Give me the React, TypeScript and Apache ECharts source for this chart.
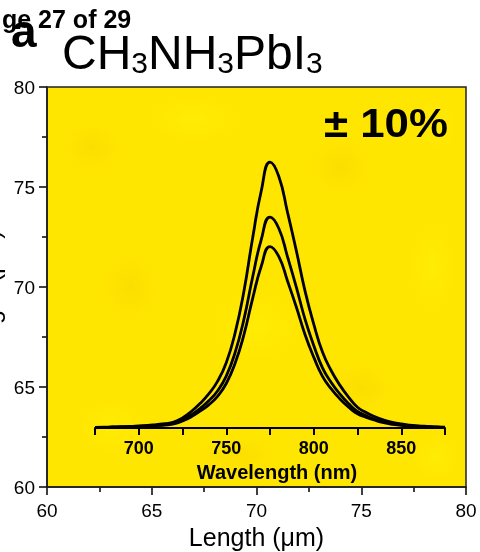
import React, { useEffect, useRef } from "react";
import * as echarts from "echarts";

// ---- data ----
const wavelengths = [675, 680, 685, 690, 695, 700, 705, 710, 715, 720, 725, 730, 735, 740, 745, 750, 755, 760, 765, 770, 775, 780, 785, 790, 795, 800, 805, 810, 815, 820, 825, 830, 835, 840, 845, 850, 855, 860, 865, 870, 875];
const plHigh = [0.002, 0.003, 0.004, 0.005, 0.006, 0.008, 0.010, 0.013, 0.016, 0.022, 0.038, 0.062, 0.092, 0.128, 0.175, 0.245, 0.355, 0.51, 0.71, 0.89, 0.998, 0.945, 0.81, 0.667, 0.515, 0.39, 0.285, 0.215, 0.16, 0.115, 0.078, 0.058, 0.042, 0.030, 0.021, 0.015, 0.011, 0.008, 0.006, 0.004, 0.003];
const plMid = [0.002, 0.002, 0.003, 0.004, 0.005, 0.006, 0.008, 0.010, 0.013, 0.017, 0.030, 0.049, 0.073, 0.102, 0.139, 0.195, 0.282, 0.405, 0.564, 0.707, 0.792, 0.750, 0.643, 0.530, 0.409, 0.310, 0.226, 0.171, 0.127, 0.091, 0.062, 0.046, 0.033, 0.024, 0.017, 0.012, 0.009, 0.006, 0.005, 0.003, 0.002];
const plLow = [0.001, 0.002, 0.003, 0.003, 0.004, 0.005, 0.007, 0.009, 0.011, 0.015, 0.026, 0.042, 0.063, 0.087, 0.119, 0.167, 0.242, 0.348, 0.484, 0.607, 0.681, 0.644, 0.552, 0.455, 0.351, 0.266, 0.194, 0.147, 0.109, 0.078, 0.053, 0.040, 0.029, 0.020, 0.014, 0.010, 0.008, 0.005, 0.004, 0.003, 0.002];
const lengthRange = [60, 80];
const insetLabels = [700, 750, 800, 850];

const FONT = "'Liberation Sans', Arial, Helvetica, sans-serif";

// layout
const W = 480, H = 552;
const G = { left: 47, right: 14, top: 87, bottom: 65 };
const IN = { left: 95, right: 35, top: 135, bottom: 124 };

export default function App() {
  const ref = useRef<HTMLDivElement>(null);
  useEffect(() => {
    if (!ref.current) return;
    const chart = echarts.init(ref.current, null, { renderer: "svg" });
    const pw = W - G.left - G.right;
    const ph = H - G.top - G.bottom;
    const blob = (fx: number, fy: number, rx: number, ry: number, color: string) => {
      const cx = Math.min(Math.max(G.left + fx * pw, G.left + rx), G.left + pw - rx);
      const cy = Math.min(Math.max(G.top + fy * ph, G.top + ry), G.top + ph - ry);
      return {
        type: "ellipse",
        z: -9,
        silent: true,
        shape: { cx, cy, rx, ry },
        style: {
          fill: new echarts.graphic.RadialGradient(0.5, 0.5, 0.5, [
            { offset: 0, color },
            { offset: 1, color: "rgba(255,230,0,0)" },
          ]),
        },
      };
    };
    const dark = "rgba(246,212,0,0.45)";
    const light = "rgba(255,242,10,0.55)";
    const mkLine = (data: number[]) => ({
      type: "line",
      xAxisIndex: 1,
      yAxisIndex: 1,
      data: wavelengths.map((w, i) => [w, data[i]]),
      smooth: 0.5,
      showSymbol: false,
      lineStyle: { color: "#000", width: 2.8 },
      z: 6,
    });
    chart.setOption({
      animation: false,
      grid: [
        { left: G.left, right: G.right, top: G.top, bottom: G.bottom, show: false, outerBoundsMode: "none", containLabel: false },
        { left: IN.left, right: IN.right, top: IN.top, bottom: IN.bottom, show: false, outerBoundsMode: "none", containLabel: false },
      ],
      xAxis: [
        {
          type: "value",
          gridIndex: 0,
          min: lengthRange[0],
          max: lengthRange[1],
          interval: 5,
          name: "Length (μm)",
          nameLocation: "middle",
          nameGap: 37,
          nameTextStyle: { fontSize: 25, color: "#000", fontFamily: FONT },
          axisLine: { lineStyle: { color: "#000", width: 1.5 } },
          axisTick: { length: 8, lineStyle: { color: "#000", width: 1.5 } },
          minorTick: { show: true, splitNumber: 2, length: 5, lineStyle: { color: "#000", width: 1.5 } },
          splitLine: { show: false },
          axisLabel: { fontSize: 19, color: "#000", margin: 14, fontFamily: FONT },
        },
        {
          type: "value",
          gridIndex: 1,
          min: 675,
          max: 875,
          interval: 25,
          z: 5,
          name: "Wavelength (nm)",
          nameLocation: "middle",
          nameGap: 30,
          nameTextStyle: { fontSize: 20, fontWeight: "bold", color: "#000", fontFamily: FONT, padding: [0, 0, 0, 14] },
          axisLine: { lineStyle: { color: "#000", width: 2 } },
          axisTick: { length: 7, lineStyle: { color: "#000", width: 2 } },
          splitLine: { show: false },
          axisLabel: {
            fontSize: 18,
            fontWeight: "bold",
            color: "#000",
            margin: 11,
            fontFamily: FONT,
            formatter: (v: number) => (insetLabels.includes(v) ? String(v) : ""),
          },
        },
      ],
      yAxis: [
        {
          type: "value",
          gridIndex: 0,
          min: lengthRange[0],
          max: lengthRange[1],
          interval: 5,
          axisLine: { show: true, lineStyle: { color: "#000", width: 1.5 } },
          axisTick: { show: true, length: 8, lineStyle: { color: "#000", width: 1.5 } },
          minorTick: { show: true, splitNumber: 2, length: 5, lineStyle: { color: "#000", width: 1.5 } },
          splitLine: { show: false },
          axisLabel: { fontSize: 19, color: "#000", margin: 12, fontFamily: FONT },
        },
        {
          type: "value",
          gridIndex: 1,
          min: 0,
          max: 1.1,
          show: false,
        },
      ],
      series: [
        { type: "line", xAxisIndex: 0, yAxisIndex: 0, data: [] },
        mkLine(plHigh),
        mkLine(plMid),
        mkLine(plLow),
      ],
      graphic: [
        {
          type: "rect",
          z: -10,
          silent: true,
          shape: { x: G.left, y: G.top, width: pw, height: ph },
          style: { fill: "#FFE600" },
        },
        blob(0.1, 0.15, 45, 40, dark),
        blob(0.35, 0.08, 60, 30, light),
        blob(0.7, 0.2, 50, 45, dark),
        blob(0.92, 0.45, 30, 60, light),
        blob(0.2, 0.5, 45, 55, dark),
        blob(0.5, 0.6, 60, 45, light),
        blob(0.75, 0.75, 50, 40, dark),
        blob(0.15, 0.85, 45, 35, light),
        blob(0.45, 0.92, 70, 28, dark),
        blob(0.95, 0.95, 30, 30, light),
        blob(0.93, 0.1, 25, 30, light),
        {
          type: "rect",
          z: 10,
          silent: true,
          shape: { x: G.left, y: G.top, width: pw, height: ph },
          style: { fill: "none", stroke: "#222", lineWidth: 1.5 },
        },
        {
          type: "text",
          z: 11,
          x: 2,
          y: 18.5,
          style: { text: "ge 27 of 29", fontSize: 25, fontWeight: "bold", fontFamily: FONT, fill: "#000", verticalAlign: "middle", align: "left" },
        },
        {
          type: "text",
          z: 12,
          x: 11,
          y: 31,
          style: { text: "a", fontSize: 46, fontWeight: "bold", fontFamily: FONT, fill: "#000", verticalAlign: "middle", align: "left" },
        },
        {
          type: "text",
          z: 11,
          x: 62,
          y: 27,
          style: {
            text: "{m|CH}{s|3}{m|NH}{s|3}{m|PbI}{s|3}",
            verticalAlign: "top",
            align: "left",
            fill: "#000",
            rich: {
              m: { fontSize: 48, lineHeight: 50, fontFamily: FONT, fill: "#000" },
              s: { fontSize: 30, lineHeight: 18, verticalAlign: "bottom", fontFamily: FONT, fill: "#000" },
            },
          },
        },
        {
          type: "text",
          z: 11,
          x: 448,
          y: 123,
          scaleX: 1.07,
          style: { text: "± 10%", fontSize: 41, fontWeight: "bold", fontFamily: FONT, fill: "#000", verticalAlign: "middle", align: "right" },
        },
        {
          type: "text",
          z: 11,
          x: 3,
          y: 298,
          rotation: Math.PI / 2,
          style: { text: "Length (μm)", fontSize: 25, fontFamily: FONT, fill: "#000", verticalAlign: "bottom", align: "center" },
        },
      ],
    });
    return () => chart.dispose();
  }, []);
  return <div ref={ref} style={{ position: "fixed", left: 0, top: 0, width: W, height: H }} />;
}
